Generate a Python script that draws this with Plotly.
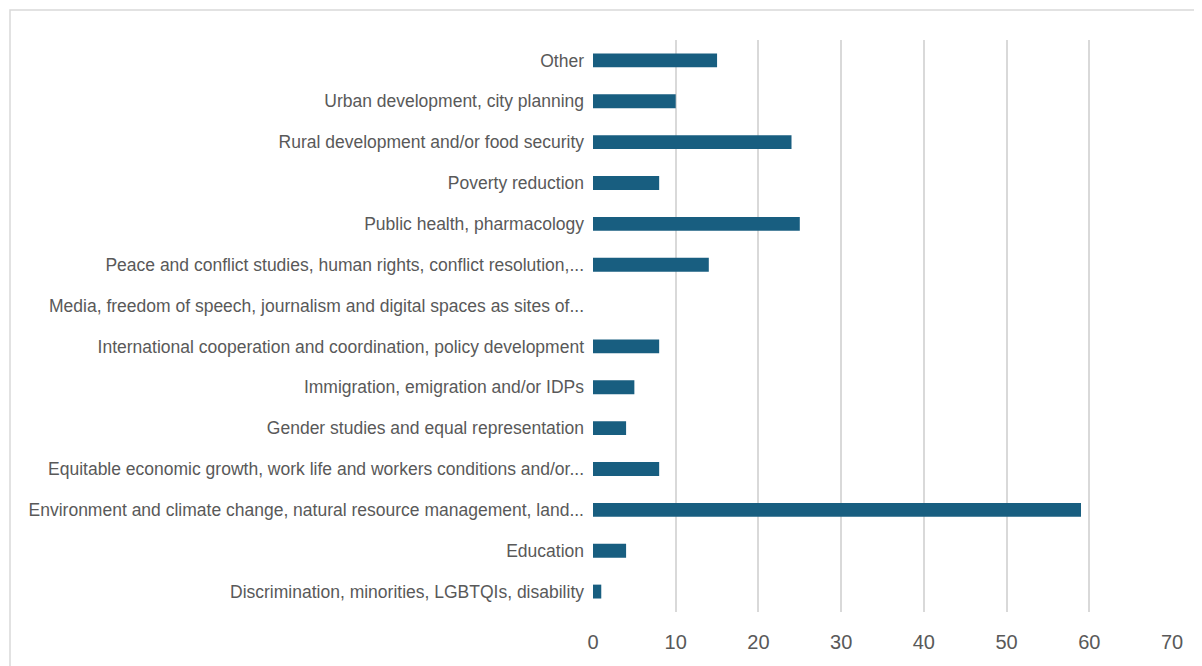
import plotly.graph_objects as go

categories = [
    "Discrimination, minorities, LGBTQIs, disability",
    "Education",
    "Environment and climate change, natural resource management, land...",
    "Equitable economic growth, work life and workers conditions and/or...",
    "Gender studies and equal representation",
    "Immigration, emigration and/or IDPs",
    "International cooperation and coordination, policy development",
    "Media, freedom of speech, journalism and digital spaces as sites of...",
    "Peace and conflict studies, human rights, conflict resolution,...",
    "Public health, pharmacology",
    "Poverty reduction",
    "Rural development and/or food security",
    "Urban development, city planning",
    "Other",
]
values = [1, 4, 59, 8, 4, 5, 8, 0, 14, 25, 8, 24, 10, 15]
x_ticks = [0, 10, 20, 30, 40, 50, 60, 70]

W, H = 1202, 666
L, R, T, B = 585, 38, 32, 62
pw, ph = W - L - R, H - T - B

fig = go.Figure(go.Bar(
    x=values, y=categories, orientation="h",
    marker=dict(color="#185E80", line=dict(width=0)),
    width=0.34,
))

fig.update_layout(
    width=W, height=H,
    margin=dict(l=L, r=R, t=T, b=B, pad=0),
    paper_bgcolor="white", plot_bgcolor="white",
    showlegend=False,
    xaxis=dict(
        range=[0, 70], tickvals=x_ticks, ticktext=[str(v) for v in x_ticks],
        showgrid=True, gridcolor="#d9d9d9", gridwidth=2,
        zeroline=False, showline=False, ticks="",
        tickfont=dict(family="Liberation Sans, Arial, sans-serif", size=20, color="#595959"),
        ticklabelstandoff=16,
    ),
    yaxis=dict(
        categoryorder="array", categoryarray=categories,
        showgrid=False, zeroline=False, showline=False, ticks="",
        tickfont=dict(family="Liberation Sans, Arial, sans-serif", size=17.5, color="#595959"),
        ticklabelstandoff=8,
        range=[-0.5, len(categories) - 0.5],
    ),
    shapes=[dict(
        type="rect", xref="paper", yref="paper",
        x0=(2 - L) / pw, x1=(W + 20 - L) / pw,
        y0=(H - B - (H + 20)) / ph, y1=(H - B - 2) / ph,
        line=dict(color="#d9d9d9", width=1.5), fillcolor="rgba(0,0,0,0)",
        layer="below",
    )],
)

fig.write_html("out.html")
